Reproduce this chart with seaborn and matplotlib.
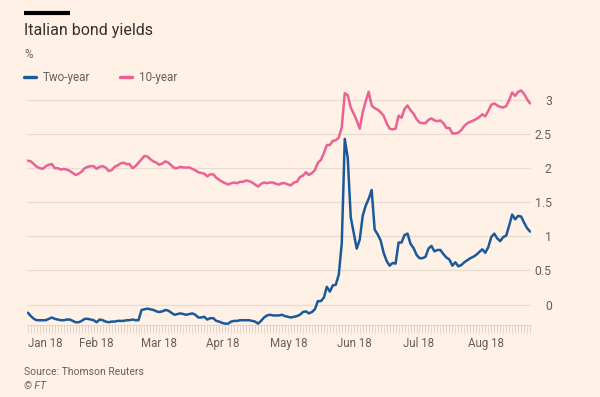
import numpy as np
import pandas as pd
import matplotlib
matplotlib.use("Agg")
import matplotlib.pyplot as plt
import seaborn as sns

# ---------------- data ----------------
dates = pd.bdate_range("2018-01-12", "2018-09-05")

two_year = [
    -0.12, -0.17, -0.21, -0.23, -0.23, -0.23, -0.23, -0.21, -0.19, -0.21,
    -0.22, -0.23, -0.23, -0.22, -0.22, -0.24, -0.26, -0.26, -0.24, -0.21,
    -0.21, -0.22, -0.23, -0.26, -0.22, -0.23, -0.25, -0.26, -0.25, -0.25,
    -0.24, -0.24, -0.24, -0.23, -0.23, -0.22, -0.23, -0.23, -0.08, -0.07,
    -0.06, -0.07, -0.08, -0.10, -0.11, -0.10, -0.08, -0.09, -0.12, -0.15,
    -0.14, -0.13, -0.14, -0.15, -0.14, -0.13, -0.15, -0.19, -0.19, -0.18,
    -0.22, -0.20, -0.20, -0.24, -0.25, -0.27, -0.28, -0.28, -0.25, -0.24,
    -0.24, -0.23, -0.23, -0.23, -0.23, -0.24, -0.25, -0.28, -0.24, -0.19,
    -0.16, -0.15, -0.16, -0.16, -0.16, -0.15, -0.17, -0.18, -0.19, -0.18,
    -0.17, -0.15, -0.11, -0.10, -0.13, -0.11, -0.07, 0.05, 0.05, 0.10,
    0.26, 0.19, 0.28, 0.29, 0.44, 0.90, 2.43, 2.15, 1.28, 1.05,
    0.82, 0.95, 1.30, 1.45, 1.55, 1.68, 1.10, 1.03, 0.94, 0.76,
    0.64, 0.57, 0.61, 0.60, 0.91, 0.91, 1.02, 1.04, 0.89, 0.83,
    0.73, 0.68, 0.68, 0.70, 0.82, 0.86, 0.78, 0.80, 0.80, 0.74,
    0.69, 0.66, 0.57, 0.62, 0.56, 0.58, 0.62, 0.65, 0.68, 0.70,
    0.73, 0.77, 0.81, 0.76, 0.84, 0.99, 1.04, 0.97, 0.93, 0.99,
    1.01, 1.16, 1.32, 1.25, 1.30, 1.29, 1.20, 1.12, 1.07,
]

ten_year = [
    2.11, 2.10, 2.06, 2.02, 2.00, 1.99, 2.03, 2.05, 2.06, 2.00,
    2.00, 1.98, 1.99, 1.98, 1.96, 1.93, 1.90, 1.92, 1.95, 2.00,
    2.02, 2.03, 2.03, 1.99, 2.02, 2.03, 2.01, 1.96, 1.97, 2.02,
    2.04, 2.07, 2.08, 2.06, 2.06, 2.00, 2.03, 2.08, 2.13, 2.18,
    2.17, 2.13, 2.10, 2.08, 2.05, 2.07, 2.10, 2.08, 2.04, 2.00,
    2.00, 2.02, 2.01, 2.01, 2.01, 1.99, 1.97, 1.94, 1.93, 1.92,
    1.88, 1.91, 1.91, 1.86, 1.83, 1.80, 1.78, 1.76, 1.78, 1.79,
    1.78, 1.80, 1.80, 1.82, 1.81, 1.79, 1.76, 1.73, 1.77, 1.79,
    1.78, 1.79, 1.79, 1.77, 1.76, 1.78, 1.78, 1.76, 1.75, 1.79,
    1.80, 1.87, 1.89, 1.94, 1.90, 1.93, 1.97, 2.08, 2.12, 2.22,
    2.34, 2.34, 2.40, 2.41, 2.45, 2.60, 3.10, 3.07, 2.89, 2.80,
    2.70, 2.58, 2.82, 2.98, 3.12, 2.92, 2.88, 2.86, 2.82, 2.77,
    2.66, 2.58, 2.57, 2.58, 2.77, 2.74, 2.87, 2.92, 2.85, 2.80,
    2.72, 2.67, 2.66, 2.66, 2.71, 2.73, 2.70, 2.69, 2.70, 2.66,
    2.59, 2.59, 2.51, 2.51, 2.52, 2.56, 2.62, 2.66, 2.68, 2.70,
    2.72, 2.75, 2.79, 2.76, 2.84, 2.93, 2.95, 2.92, 2.90, 2.89,
    2.91, 3.00, 3.11, 3.06, 3.12, 3.14, 3.09, 3.01, 2.95,
]

series_names = ["Two-year", "10-year"]
y_ticks = [0, 0.5, 1, 1.5, 2, 2.5, 3]
y_labels = ["0", "0.5", "1", "1.5", "2", "2.5", "3"]

# ---------------- style ----------------
BG = "#FFF1E5"
BLUE = "#1A5A9C"
PINK = "#EC6193"
GRID = "#E8DCD1"
TXT = "#66605C"
DARK = "#33302E"

sns.set_theme(style="white")
plt.rcParams["font.family"] = ["Roboto", "DejaVu Sans"]

n = len(dates)
df = pd.DataFrame({"idx": np.arange(n), "date": dates,
                   series_names[0]: two_year, series_names[1]: ten_year})
long = df.melt(id_vars=["idx", "date"], value_vars=series_names,
               var_name="series", value_name="yield")

fig = plt.figure(figsize=(6, 3.97), dpi=100, facecolor=BG)
ax = fig.add_axes([0.045, 0.1814, 0.84, 0.601])
ax.set_facecolor(BG)

sns.lineplot(data=long, x="idx", y="yield", hue="series", hue_order=series_names,
             palette={series_names[0]: BLUE, series_names[1]: PINK},
             linewidth=1.8, ax=ax, legend=False)

ax.set_xlim(-0.3, n - 0.7)
ax.set_ylim(-0.30, 3.2)

# y axis on the right
ax.set_yticks(y_ticks)
ax.set_yticklabels(y_labels)
ax.yaxis.tick_right()
ax.tick_params(axis="y", length=0, pad=15, labelsize=8.8, labelcolor=TXT)
for lbl in ax.get_yticklabels():
    lbl.set_horizontalalignment("right")
ax.grid(axis="y", color=GRID, linewidth=0.9)
ax.grid(axis="x", visible=False)
ax.set_axisbelow(True)

# x axis: a minor tick per business day, month labels centred on each month
month_key = df["date"].dt.to_period("M")
centers = df.groupby(month_key)["idx"].mean()
counts = df.groupby(month_key)["idx"].count()
centers = centers[counts > 5]
ax.set_xticks(centers.values - 0.8)
ax.set_xticklabels([p.strftime("%b %y") for p in centers.index])
ax.set_xticks(np.arange(n), minor=True)
ax.tick_params(axis="x", which="major", length=0, pad=9, labelsize=8.3, labelcolor=TXT)
ax.tick_params(axis="x", which="minor", length=6, width=0.6, color="#DCD1C6",
               direction="out", bottom=True)
ax.set_xlabel("")
ax.set_ylabel("")

for s in ["top", "left", "right"]:
    ax.spines[s].set_visible(False)
ax.spines["bottom"].set_color("#DCD1C6")
ax.spines["bottom"].set_linewidth(0.6)

# ---------------- header / legend / footer ----------------
def fy(px):
    return 1 - px / 397.0

fig.add_artist(plt.Line2D([24 / 600, 70 / 600], [fy(13), fy(13)],
                          color="#000000", linewidth=3, solid_capstyle="butt"))
fig.text(24 / 600, fy(31), "Italian bond yields", fontsize=11.5, color=DARK,
         va="center", ha="left")
fig.text(24 / 600, fy(55), "%", fontsize=8.3, color=TXT, va="center", ha="left")

handles = [plt.Line2D([], [], color=BLUE, linewidth=2.4),
           plt.Line2D([], [], color=PINK, linewidth=2.4)]
fig.legend(handles, series_names, loc="center left", ncol=2, frameon=False,
           bbox_to_anchor=(24 / 600, fy(78)), bbox_transform=fig.transFigure,
           fontsize=8.4, labelcolor=TXT, handlelength=1.05, handletextpad=0.6,
           columnspacing=2.5, borderpad=0, borderaxespad=0)

fig.text(24 / 600, fy(372), "Source: Thomson Reuters", fontsize=7.5, color=TXT,
         va="center", ha="left")
fig.text(24 / 600, fy(386), "© FT", fontsize=7.5, color=TXT, style="italic",
         va="center", ha="left")

fig.savefig("out.png", dpi=100, facecolor=BG)
